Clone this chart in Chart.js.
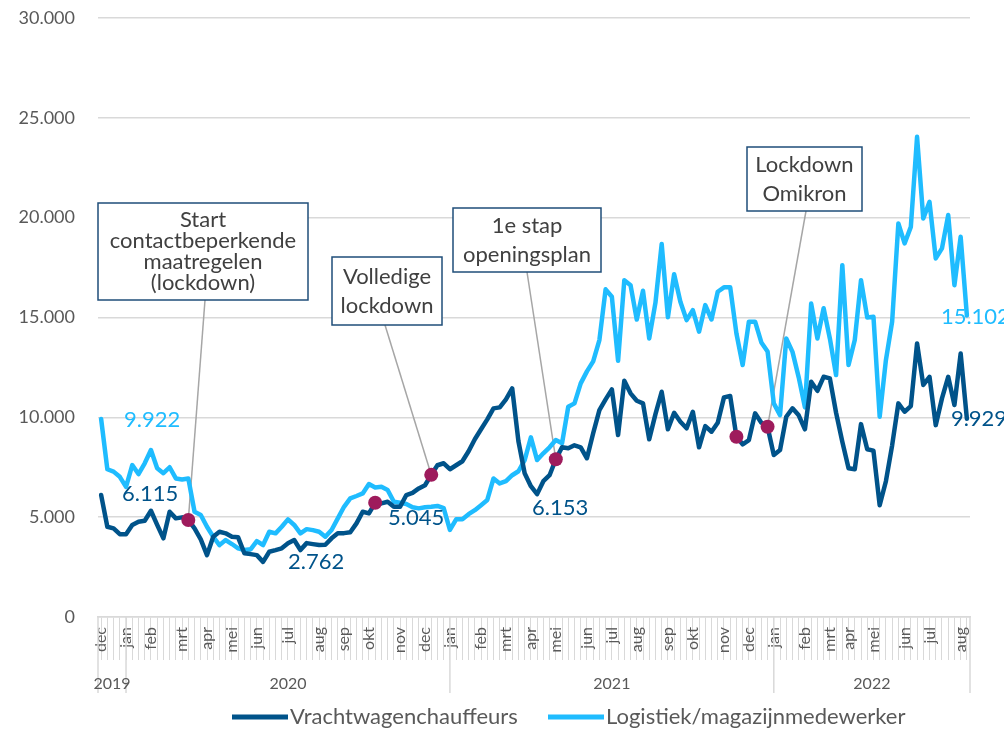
<!DOCTYPE html>
<html>
<head>
<meta charset="utf-8">
<script src="https://cdn.jsdelivr.net/npm/chart.js@4.4.1/dist/chart.umd.min.js"></script>
<style>
html,body{margin:0;padding:0;background:#fff;}
#wrap{width:1004px;height:729px;position:relative;}
</style>
</head>
<body>
<div id="wrap"><canvas id="c" width="1004" height="729"></canvas></div>
<script>
// ---------------- DATA ----------------
const seriesNames = ['Vrachtwagenchauffeurs', 'Logistiek/magazijnmedewerker'];

const vracht = [
  6115, 4520, 4440, 4150, 4150, 4610, 4770, 4820, 5320, 4610,
  3940, 5270, 4940, 4990, 4860, 4440, 3890, 3100, 4020, 4270,
  4190, 4020, 3990, 3190, 3150, 3100, 2762, 3270, 3350, 3440,
  3690, 3855, 3355, 3700, 3650, 3605, 3620, 3940, 4190, 4200,
  4240, 4690, 5270, 5190, 5720, 5690, 5770, 5520, 5520, 6110,
  6220, 6440, 6600, 7120, 7600, 7700, 7400, 7600, 7800, 8300,
  8900, 9400, 9900, 10450, 10500, 10900, 11450, 8800, 7200, 6550,
  6153, 6800, 7100, 7900, 8500, 8450, 8600, 8500, 7950, 9200,
  10360, 10900, 11400, 9110, 11830, 11200, 10830, 10700, 8900, 10160,
  11280, 9400, 10230, 9780, 9450, 10280, 8500, 9560, 9280, 9730,
  11000, 11070, 9030, 8650, 8860, 10200, 9730, 9530, 8110, 8360,
  10030, 10450, 10100, 9400, 11780, 11330, 12030, 11950, 10230, 8780,
  7450, 7400, 9660, 8400, 8330, 5600, 6800, 8600, 10700, 10280,
  10560, 13700, 11620, 12030, 9610, 10950, 12030, 10620, 13200, 9929
];

const logistiek = [
  9922, 7400, 7280, 7020, 6520, 7610, 7160, 7700, 8360, 7450,
  7200, 7500, 6940, 6890, 6940, 5270, 5110, 4520, 4020, 3600,
  3855, 3655, 3440, 3355, 3390, 3800, 3605, 4270, 4190, 4520,
  4890, 4610, 4190, 4400, 4350, 4270, 4020, 4360, 4940, 5520,
  5940, 6060, 6190, 6660, 6490, 6520, 6360, 5770, 5720, 5660,
  5500, 5440, 5500, 5520, 5560, 5450, 4360, 4890, 4900, 5150,
  5350, 5600, 5860, 6940, 6690, 6800, 7100, 7300, 7860, 9000,
  7860, 8200, 8500, 8860, 8700, 10530, 10700, 11700, 12300, 12800,
  13870, 16410, 16040, 12830, 16870, 16620, 14900, 16340, 13950, 15740,
  18680, 15010, 17170, 15790, 14870, 15370, 14290, 15620, 14900, 16290,
  16510, 16510, 14200, 12620, 14790, 14790, 13750, 13300, 10700, 10110,
  13950, 13280, 12000, 10500, 15700, 13950, 15460, 13950, 12120, 17620,
  12620, 13870, 16870, 15000, 15040, 10030, 12870, 14790, 19710, 18710,
  19540, 24050, 19960, 20790, 17960, 18460, 20130, 16620, 19040, 15102
];

// month tick labels: [week index, label]
const monthTicks = [
  [0,'dec'],[4,'jan'],[8,'feb'],[13,'mrt'],[17,'apr'],[21,'mei'],[25,'jun'],[30,'jul'],
  [35,'aug'],[39,'sep'],[43,'okt'],[48,'nov'],[52,'dec'],
  [56,'jan'],[61,'feb'],[65,'mrt'],[69,'apr'],[73,'mei'],[78,'jun'],[82,'jul'],[86,'aug'],
  [91,'sep'],[95,'okt'],[100,'nov'],[104,'dec'],
  [108,'jan'],[113,'feb'],[117,'mrt'],[120,'apr'],[124,'mei'],[129,'jun'],[133,'jul'],[138,'aug']
];
// year groups: [label, first week index]
const yearGroups = [['2019',0],['2020',4],['2021',56],['2022',108]];
const yTicks = [0, 5000, 10000, 15000, 20000, 25000, 30000];

// event markers (week indices on Vrachtwagenchauffeurs line)
const eventIdx = [14, 44, 53, 73, 102, 107];
// callouts: text lines and the event week they point to
const calloutTexts = [
  ['Start','contactbeperkende','maatregelen','(lockdown)'],
  ['Volledige','lockdown'],
  ['1e stap','openingsplan'],
  ['Lockdown','Omikron']
];
const calloutIdx = [14, 53, 73, 107];
// data labels [week index, text]
const vrachtLabels = [[0,'6.115'],[26,'2.762'],[48,'5.045'],[70,'6.153'],[139,'9.929']];
const logistiekLabels = [[0,'9.922'],[139,'15.102']];

// categories: weekly dates
const weeks = [];
(function(){ const d0 = Date.UTC(2019,11,2);
  for (let i=0;i<vracht.length;i++){ weeks.push(new Date(d0+i*7*864e5).toISOString().slice(0,10)); } })();

// ---------------- STYLE ----------------
const C = {dark:'#00538A', light:'#1FBCFF', dot:'#9E1B5C', grid:'#D9D9D9', axisText:'#595959',
           boxText:'#404040', boxBorder:'#1F4E79', connector:'#A6A6A6'};
const FONT = 'Lato';
const calloutBoxes = [
  {x:98,  y:203, w:210, h:97, ax:205, lh:21},
  {x:332, y:257, w:110, h:68, ax:385, lh:29},
  {x:453, y:208, w:148, h:64, ax:527, lh:29},
  {x:747, y:147, w:115, h:64, ax:806, lh:29}
];
const vrachtLabelOff = [[21,-1],[25,0],[-12,11],[-5,14],[-16,0]];
const logLabelOff = [[23,1],[-26,1]];
const legendPos = [{x:232, y:717}, {x:548, y:717}];

const fmt = v => String(Math.round(v)).replace(/\B(?=(\d{3})+(?!\d))/g, '.');
const monthAt = {}; monthTicks.forEach(([i,m]) => monthAt[i] = m);
const eventData = vracht.map((v,i) => eventIdx.includes(i) ? v : null);

const decor = {
  id: 'decor',
  beforeDatasetsDraw(chart) {
    const {ctx, scales:{x, y}} = chart;
    ctx.save();
    ctx.strokeStyle = C.connector; ctx.lineWidth = 1.5;
    calloutIdx.forEach((idx, k) => {
      const b = calloutBoxes[k];
      ctx.beginPath();
      ctx.moveTo(b.ax, b.y + b.h);
      ctx.lineTo(x.getPixelForValue(idx), y.getPixelForValue(vracht[idx]));
      ctx.stroke();
    });
    ctx.restore();
  },
  afterDatasetsDraw(chart) {
    const {ctx, scales:{x, y}} = chart;
    ctx.save();
    // callout boxes
    calloutTexts.forEach((lines, k) => {
      const b = calloutBoxes[k];
      ctx.fillStyle = '#fff'; ctx.fillRect(b.x, b.y, b.w, b.h);
      ctx.strokeStyle = C.boxBorder; ctx.lineWidth = 1.5; ctx.strokeRect(b.x, b.y, b.w, b.h);
      ctx.fillStyle = C.boxText; ctx.font = '22px ' + FONT; ctx.textAlign = 'center'; ctx.textBaseline = 'middle';
      const top = b.y + b.h/2 - (lines.length-1)*b.lh/2;
      lines.forEach((t, j) => ctx.fillText(t, b.x + b.w/2, top + j*b.lh));
    });
    // data labels
    ctx.font = '22px ' + FONT; ctx.textAlign = 'left'; ctx.textBaseline = 'middle';
    ctx.fillStyle = C.dark;
    vrachtLabels.forEach(([i,t],k) => ctx.fillText(t, x.getPixelForValue(i)+vrachtLabelOff[k][0], y.getPixelForValue(vracht[i])+vrachtLabelOff[k][1]));
    ctx.fillStyle = C.light;
    logistiekLabels.forEach(([i,t],k) => ctx.fillText(t, x.getPixelForValue(i)+logLabelOff[k][0], y.getPixelForValue(logistiek[i])+logLabelOff[k][1]));
    ctx.restore();
  },
  afterDraw(chart) {
    const {ctx, chartArea, scales:{x}} = chart;
    ctx.save();
    const y0 = chartArea.bottom, y1 = chartArea.bottom + 76;
    const bounds = yearGroups.map(g => g[1] === 0 ? chartArea.left : x.getPixelForValue(g[1]));
    bounds.push(chartArea.right);
    ctx.strokeStyle = C.grid; ctx.lineWidth = 1.5;
    bounds.forEach(bx => { ctx.beginPath(); ctx.moveTo(bx, y0); ctx.lineTo(bx, y1); ctx.stroke(); });
    ctx.fillStyle = C.axisText; ctx.font = '16px ' + FONT; ctx.textAlign = 'center'; ctx.textBaseline = 'middle';
    yearGroups.forEach((g, k) => ctx.fillText(g[0], (bounds[k] + bounds[k+1]) / 2, y0 + 67));
    // legend
    const ds = [chart.data.datasets[1], chart.data.datasets[2]];
    ctx.font = '22px ' + FONT; ctx.textAlign = 'left';
    ds.forEach((d, k) => {
      const p = legendPos[k];
      ctx.strokeStyle = d.borderColor; ctx.lineWidth = 5; ctx.lineCap = 'butt';
      ctx.beginPath(); ctx.moveTo(p.x, p.y); ctx.lineTo(p.x + 56, p.y); ctx.stroke();
      ctx.fillStyle = C.axisText; ctx.fillText(d.label, p.x + 58, p.y);
    });
    ctx.restore();
  }
};

new Chart(document.getElementById('c'), {
  type: 'line',
  data: {
    labels: weeks,
    datasets: [
      {label:'events', data:eventData, showLine:false, pointRadius:7, pointHoverRadius:7,
       pointBackgroundColor:C.dot, pointBorderColor:C.dot, pointBorderWidth:0, order:0},
      {label:seriesNames[0], data:vracht, borderColor:C.dark, backgroundColor:C.dark, borderWidth:4.5,
       pointRadius:0, tension:0, borderJoinStyle:'round', borderCapStyle:'round', order:1},
      {label:seriesNames[1], data:logistiek, borderColor:C.light, backgroundColor:C.light, borderWidth:4.5,
       pointRadius:0, tension:0, borderJoinStyle:'round', borderCapStyle:'round', order:2}
    ]
  },
  options: {
    responsive:false, animation:false, events:[],
    layout:{padding:{top:18, right:34, bottom:0, left:0}},
    plugins:{legend:{display:false}, tooltip:{enabled:false}},
    scales:{
      x:{
        offset:true,
        grid:{drawOnChartArea:false, drawTicks:true, tickLength:43, color:C.grid, lineWidth:1},
        border:{display:true, color:C.grid, width:1.5},
        ticks:{autoSkip:false, minRotation:90, maxRotation:90, padding:-33, color:C.axisText,
               font:{family:FONT, size:16}, callback:(v,i) => monthAt[i] || ''},
        afterFit: s => { s.height = 112; }
      },
      y:{
        min:0, max:30000,
        afterBuildTicks: s => { s.ticks = yTicks.map(v => ({value:v})); },
        ticks:{padding:0, color:C.axisText, font:{family:FONT, size:18}, callback: v => fmt(v)},
        grid:{color:C.grid, lineWidth:1.5, drawTicks:true, tickLength:23, tickColor:'rgba(0,0,0,0)'},
        border:{display:false},
        afterFit: s => { s.width = 98; }
      }
    }
  },
  plugins:[decor]
});
</script>
</body>
</html>
